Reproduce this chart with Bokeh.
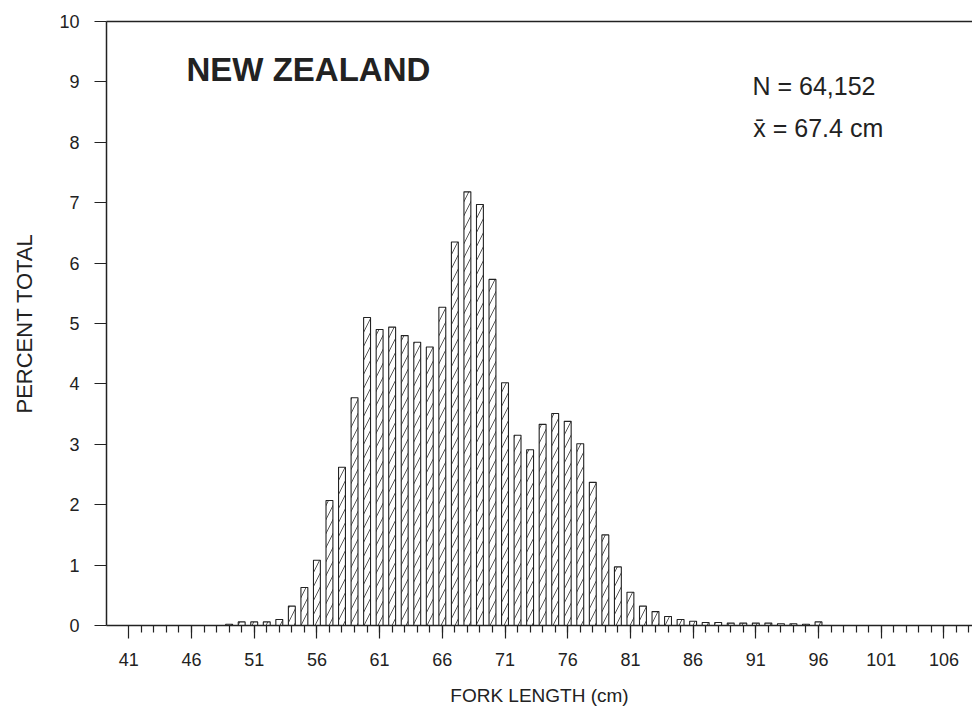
from bokeh.plotting import figure
from bokeh.models import Range1d, FixedTicker, LinearAxis, Label, ColumnDataSource
from bokeh.embed import file_html
from bokeh.resources import INLINE

# Data
fork_length = list(range(49, 97))
percent_total = [0.02, 0.06, 0.06, 0.06, 0.10, 0.32, 0.63, 1.08, 2.07, 2.62,
                 3.77, 5.10, 4.90, 4.94, 4.80, 4.69, 4.61, 5.27, 6.35, 7.18,
                 6.97, 5.73, 4.02, 3.15, 2.91, 3.33, 3.51, 3.38, 3.01, 2.37,
                 1.50, 0.97, 0.55, 0.32, 0.23, 0.15, 0.10, 0.07, 0.05, 0.05,
                 0.04, 0.04, 0.04, 0.04, 0.03, 0.03, 0.02, 0.06]
x_major_ticks = list(range(41, 107, 5))
x_minor_ticks = list(range(42, 109))
y_ticks = list(range(0, 11))
title_text = "NEW ZEALAND"
n_text = "N = 64,152"
mean_text = "x\u0304 = 67.4 cm"

FONT = "Liberation Sans"
INK = "#222222"

p = figure(frame_width=866, frame_height=604, output_backend="svg",
           toolbar_location=None, x_range=Range1d(39.22, 108.28),
           y_range=Range1d(0, 10), min_border_left=106, min_border_right=0,
           min_border_top=21, min_border_bottom=83)
p.outline_line_color = None
p.grid.visible = False
p.background_fill_color = "white"
p.border_fill_color = "white"

src = ColumnDataSource(dict(x=fork_length, top=percent_total))
p.vbar(x="x", top="top", width=0.55, bottom=0, source=src,
       fill_color="white", line_color=INK, line_width=1.1,
       hatch_pattern="/", hatch_scale=14, hatch_weight=0.9, hatch_color="#444444")

xa = p.xaxis[0]
xa.ticker = FixedTicker(ticks=x_major_ticks, minor_ticks=x_minor_ticks)
xa.major_tick_out = 13
xa.major_tick_in = 0
xa.minor_tick_out = 7
xa.minor_tick_in = 0
xa.axis_line_width = 1.5
xa.axis_line_color = INK
xa.major_tick_line_color = INK
xa.minor_tick_line_color = INK
xa.major_tick_line_width = 1.2
xa.minor_tick_line_width = 1.2
xa.major_label_text_font = FONT
xa.major_label_text_font_size = "18px"
xa.major_label_text_color = INK
xa.major_label_standoff = 14
xa.axis_label = "FORK LENGTH (cm)"
xa.axis_label_text_font = FONT
xa.axis_label_text_font_style = "normal"
xa.axis_label_text_font_size = "19px"
xa.axis_label_text_color = INK
xa.axis_label_standoff = 16

ya = p.yaxis[0]
ya.ticker = FixedTicker(ticks=y_ticks)
ya.major_tick_out = 12
ya.major_tick_in = 0
ya.minor_tick_out = 0
ya.minor_tick_in = 0
ya.axis_line_width = 1.5
ya.axis_line_color = INK
ya.major_tick_line_color = INK
ya.major_tick_line_width = 1.2
ya.major_label_text_font = FONT
ya.major_label_text_font_size = "18px"
ya.major_label_text_color = INK
ya.major_label_standoff = 15
ya.axis_label = "PERCENT TOTAL"
ya.axis_label_text_font = FONT
ya.axis_label_text_font_style = "normal"
ya.axis_label_text_font_size = "22px"
ya.axis_label_text_color = INK
ya.axis_label_standoff = 19

top_axis = LinearAxis(ticker=FixedTicker(ticks=[]), major_label_text_font_size="0px",
                      major_tick_out=0, major_tick_in=0, minor_tick_out=0, minor_tick_in=0,
                      axis_line_width=1.5, axis_line_color=INK)
p.add_layout(top_axis, "above")

p.add_layout(Label(x=45.6, y=9.21, text=title_text, text_font=FONT,
                   text_font_size="33px", text_font_style="bold", text_color=INK,
                   text_baseline="middle", text_align="left"))
p.add_layout(Label(x=90.73, y=8.94, text=n_text, text_font=FONT,
                   text_font_size="25px", text_color=INK,
                   text_baseline="middle", text_align="left"))
p.add_layout(Label(x=90.8, y=8.24, text=mean_text, text_font=FONT,
                   text_font_size="25px", text_color=INK,
                   text_baseline="middle", text_align="left"))

open("out.html", "w").write(file_html(p, INLINE))
